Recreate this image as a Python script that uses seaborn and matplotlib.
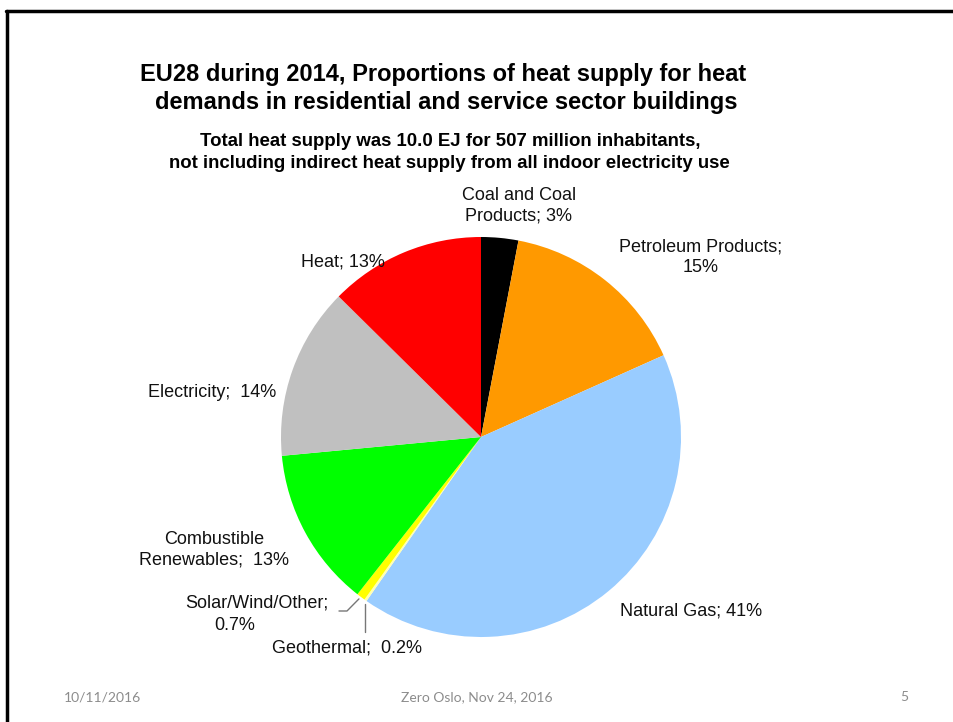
import matplotlib
matplotlib.use("Agg")
from matplotlib import pyplot as plt
from matplotlib.lines import Line2D
import seaborn as sns
import numpy as np

# Data (shares in %, clockwise from 12 o'clock)
sources = ["Coal and Coal Products", "Petroleum Products", "Natural Gas", "Geothermal",
           "Solar/Wind/Other", "Combustible Renewables", "Electricity", "Heat"]
shares = [3.0, 15.3, 41.4, 0.2, 0.7, 12.9, 13.9, 12.6]
label_texts = ["Coal and Coal\nProducts; 3%", "Petroleum Products;\n15%", "Natural Gas; 41%",
               "Geothermal;  0.2%", "Solar/Wind/Other;", "Combustible\nRenewables;  13%",
               "Electricity;  14%", "Heat; 13%"]
colors = ["#000000", "#FF9900", "#99CCFF", "#FFFFB0", "#FFFF00", "#00FF00", "#C0C0C0", "#FF0000"]

# Layout (pixel positions on the 954x722 slide, y from top)
W, H = 954, 722
pie_center = (481, 437)
pie_radius = 200
label_pos = [(519, 206), (701, 257), (691, 611), (347, 648),
             (257, 603), (214, 550), (212, 393), (343, 262)]

sns.set_theme(style="white")
plt.rcParams['font.family'] = ['Liberation Sans', 'DejaVu Sans']

fig = plt.figure(figsize=(W / 100, H / 100), dpi=100)
ax = fig.add_axes([0, 0, 1, 1])

cx, cy = pie_center[0], H - pie_center[1]
wedges, _ = ax.pie(shares, colors=colors, startangle=90, counterclock=False,
                   center=(cx, cy), radius=pie_radius, frame=True,
                   wedgeprops=dict(linewidth=0))
ax.set_xlim(0, W)
ax.set_ylim(0, H)
ax.axis("off")

# slice labels
lab = dict(ha="center", va="center", fontsize=13, color="#111111", linespacing=1.28)
for txt, (px, py) in zip(label_texts, label_pos):
    ax.text(px, H - py, txt, **lab)
ax.text(235, H - 625, "0.7%", **lab)

# leader lines for the two tiny slices
def edge_point(w):
    ang = np.deg2rad((w.theta1 + w.theta2) / 2)
    return cx + pie_radius * np.cos(ang), cy + pie_radius * np.sin(ang)

gx, gy = edge_point(wedges[3])
ax.plot([gx, gx], [gy - 4, H - 632], color="#777777", lw=1)
sx, sy = edge_point(wedges[4])
ax.plot([sx - 2, 347, 339], [sy - 2, H - 611, H - 611], color="#777777", lw=1)

# titles
ttl = dict(ha="center", va="center", fontweight="bold", color="black")
fig.text(443 / W, 1 - 75 / H, "EU28 during 2014, Proportions of heat supply for heat",
         fontsize=17, **ttl)
fig.text(446 / W, 1 - 103 / H, "demands in residential and service sector buildings",
         fontsize=17, **ttl)
fig.text(450 / W, 1 - 142 / H, "Total heat supply was 10.0 EJ for 507 million inhabitants,",
         fontsize=13.4, **ttl)
fig.text(449 / W, 1 - 164 / H, "not including indirect heat supply from all indoor electricity use",
         fontsize=13.4, **ttl)

# footer
foot = dict(fontsize=10, color="#8C8C8C", va="center", family=["Lato", "DejaVu Sans"])
fig.text(102 / W, 1 - 697 / H, "10/11/2016", ha="center", **foot)
fig.text(477 / W, 1 - 697 / H, "Zero Oslo, Nov 24, 2016", ha="center", **foot)
fig.text(904 / W, 1 - 697 / H, "5", ha="center", **foot)

# slide border (top and left edges)
fig.add_artist(Line2D([6 / W, 1], [1 - 11 / H, 1 - 11 / H], color="black", lw=2.5))
fig.add_artist(Line2D([7 / W, 7 / W], [0, 1 - 11 / H], color="black", lw=2.5))

fig.savefig("out.png", dpi=100, facecolor="white")
